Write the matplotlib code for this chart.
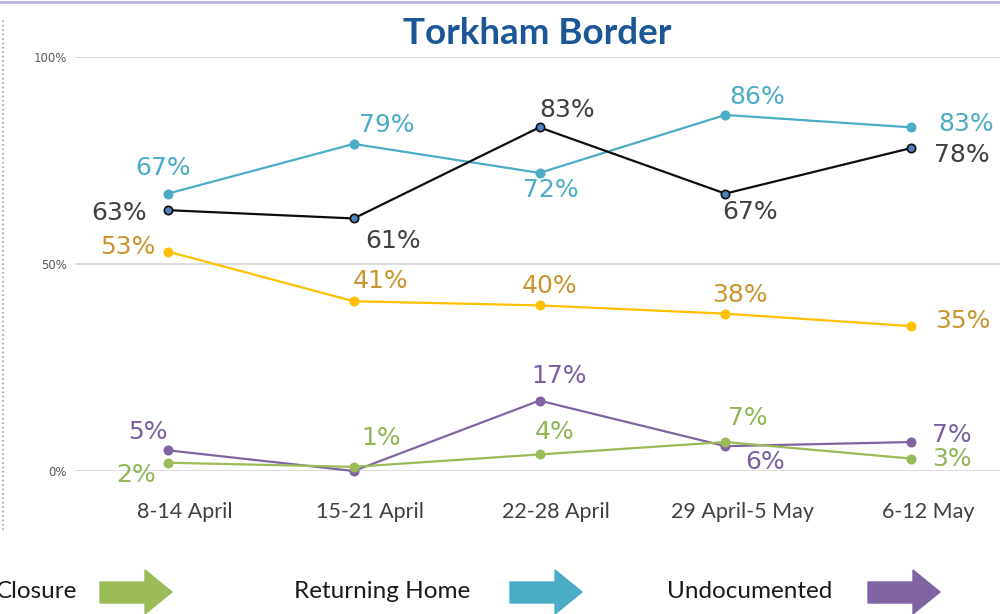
import matplotlib.pyplot as plt
from matplotlib.patches import Polygon
from matplotlib.lines import Line2D

# data
weeks = ["8-14 April", "15-21 April", "22-28 April", "29 April-5 May", "6-12 May"]
returning_home = [67, 79, 72, 86, 83]
black_series = [63, 61, 83, 67, 78]
gold_series = [53, 41, 40, 38, 35]
undocumented = [5, 0, 17, 6, 7]
closure = [2, 1, 4, 7, 3]

# label offsets in pixels (dx, dy); None = no label
off_blue = [(-5, 26), (33, 19), (11, -17), (32, 18), (55, 3)]
off_black = [(-49, -3), (39, -23), (28, 17), (25, -18), (51, -7)]
off_gold = [(-40, 5), (27, 20), (10, 19), (15, 19), (52, 5)]
off_purple = [(-20, 18), None, (20, 25), (40, -16), (41, 7)]
off_green = [(-32, -12), (27, 29), (15, 22), (23, 24), (41, 0)]

fig = plt.figure(figsize=(10, 6.14), dpi=100)
ax = fig.add_axes([0.075, 0.2329, 0.929, 0.6743])
x = list(range(len(weeks)))

series = [
    (returning_home, "#4BACC6", "#4BACC6", "#4BACC6", "#4BACC6", off_blue),
    (black_series, "#0D0D0D", "#4F81BD", "#0D0D0D", "#404040", off_black),
    (gold_series, "#FFC000", "#FFC000", "#FFC000", "#C9962E", off_gold),
    (undocumented, "#8064A2", "#8064A2", "#8064A2", "#7A5FA0", off_purple),
    (closure, "#9BBB59", "#9BBB59", "#9BBB59", "#92B556", off_green),
]

for vals, lc, mfc, mec, tc, offs in series:
    ax.plot(x, vals, color=lc, lw=1.6, marker="o", ms=6, mfc=mfc, mec=mec,
            mew=1.2, clip_on=False, zorder=3)
    for xi, v, o in zip(x, vals, offs):
        if o is None:
            continue
        ax.annotate(f"{v}%", (xi, v), xytext=o, textcoords="offset pixels",
                    ha="center", va="center", fontsize=18, color=tc,
                    family="DejaVu Sans")

ax.set_xlim(-0.5, 4.5)
ax.set_ylim(0, 100)
ax.set_yticks([0, 50, 100])
ax.set_yticklabels(["0%", "50%", "100%"], fontsize=8.5, color="#595959")
# category labels sit a little right of the points in the original
ax.set_xticks([i + 0.09 for i in x])
ax.set_xticklabels(weeks, fontsize=15.5, color="#404040", family="Lato")
ax.tick_params(length=0)
ax.tick_params(axis="x", pad=22)
ax.tick_params(axis="y", pad=6)
ax.grid(axis="y", color="#D9D9D9", lw=1.3)
ax.set_axisbelow(True)
for s in ax.spines.values():
    s.set_visible(False)

fig.text(0.537, 0.945, "Torkham Border", ha="center", va="center",
         fontsize=26.5, fontweight="bold", color="#1B5797", family="Lato")

# frame bits
fig.add_artist(Line2D([0, 1], [0.997, 0.997], color="#B4B4D8", lw=2))
fig.add_artist(Line2D([0.003, 0.003], [0.137, 0.97], color="#A0A0A0", lw=1.2, ls=":"))

# bottom arrows legend
def arrow(x0, color):
    W, H = 1000.0, 614.0
    pts = [(x0, 582), (x0 + 45, 582), (x0 + 45, 570), (x0 + 72, 592),
           (x0 + 45, 614), (x0 + 45, 603), (x0, 603)]
    fig.add_artist(Polygon([(px / W, 1 - py / H) for px, py in pts],
                           closed=True, color=color, transform=fig.transFigure))

legend_items = [("Closure", 77, 100, "#9BBB59"),
                ("Returning Home", 470, 510, "#4BACC6"),
                ("Undocumented", 832, 868, "#8064A2")]
for txt, tx, ax0, col in legend_items:
    fig.text(tx / 1000, 1 - 592 / 614, txt, ha="right", va="center",
             fontsize=17.5, color="#1A1A1A", family="Lato")
    arrow(ax0, col)

fig.savefig("out.png", dpi=100)
